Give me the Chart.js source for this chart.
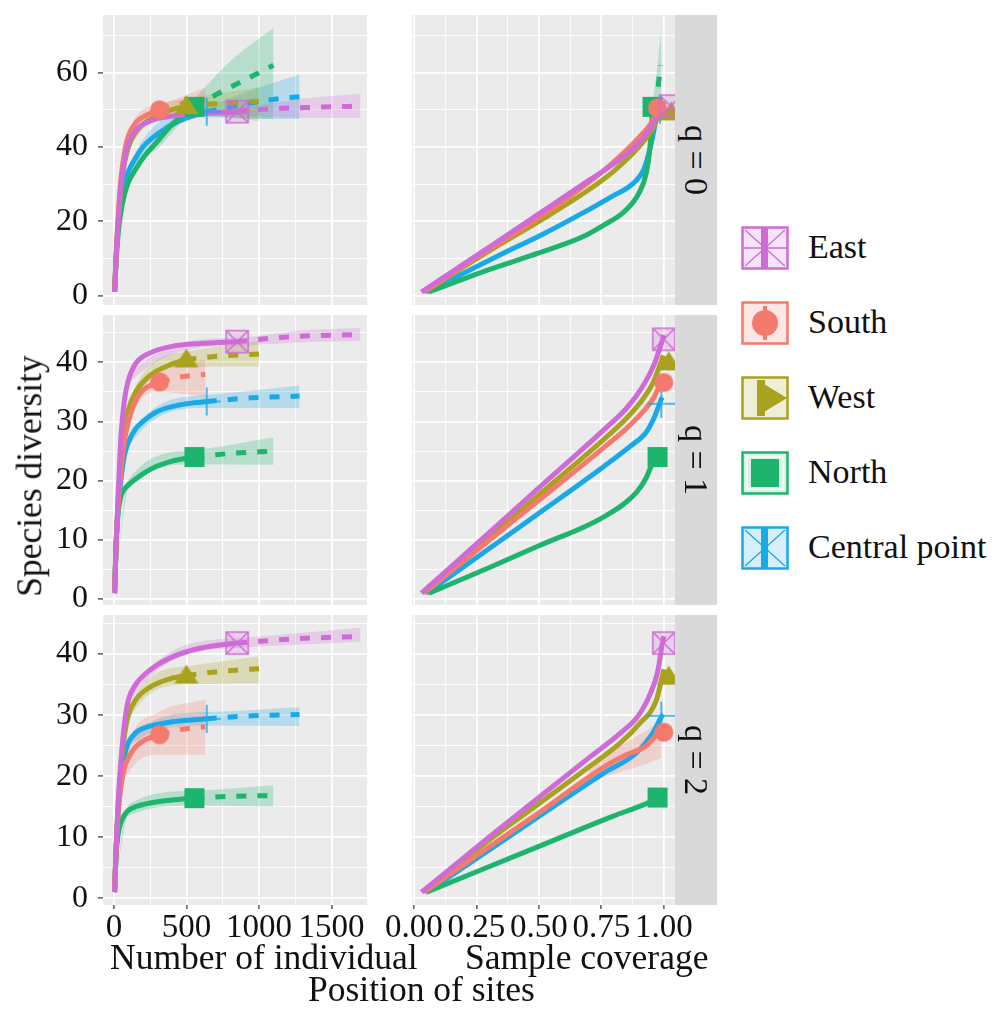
<!DOCTYPE html>
<html>
<head>
<meta charset="utf-8">
<script src="https://cdn.jsdelivr.net/npm/chart.js@4.4.1/dist/chart.umd.min.js"></script>
<style>
  body { margin: 0; background: #fff; width: 1000px; height: 1015px; position: relative; overflow: hidden;
         font-family: 'Liberation Serif', 'Times New Roman', serif; color: #111; }
  canvas.panel { position: absolute; }
  .strip { position: absolute; left: 675px; width: 42px; height: 290px; background: #d9d9d9; }
  .strip span { position: absolute; left: 50%; top: 50%; transform: translate(-50%, -50%) rotate(90deg);
                white-space: nowrap; font-size: 34px; line-height: 1; }
  .title { position: absolute; font-size: 35.5px; line-height: 1; white-space: nowrap; }
  .key { position: absolute; left: 741px; }
  .lab { position: absolute; left: 808px; font-size: 34px; line-height: 1; white-space: nowrap; }
</style>
</head>
<body>
<canvas class="panel" id="s0" width="378" height="330" style="left:0;top:-5px"></canvas>
<canvas class="panel" id="c0" width="343" height="330" style="left:372px;top:-5px"></canvas>
<canvas class="panel" id="s1" width="378" height="330" style="left:0;top:295px"></canvas>
<canvas class="panel" id="c1" width="343" height="330" style="left:372px;top:295px"></canvas>
<canvas class="panel" id="s2" width="378" height="370" style="left:0;top:595px"></canvas>
<canvas class="panel" id="c2" width="343" height="370" style="left:372px;top:595px"></canvas>

<div class="strip" style="top:15px"><span>q = 0</span></div>
<div class="strip" style="top:315px"><span>q = 1</span></div>
<div class="strip" style="top:615px"><span>q = 2</span></div>

<div class="title" style="left:30px;top:476px;transform:translate(-50%,-50%) rotate(-90deg)">Species diversity</div>
<div class="title" style="left:110px;top:940px">Number of individual</div>
<div class="title" style="left:465px;top:940px">Sample coverage</div>
<div class="title" style="left:308px;top:972px">Position of sites</div>

<div id="legend"></div>

<script>
const sites = ['East', 'South', 'West', 'North', 'Central point'];
const siteColors = ['#CF6BD6', '#F47A6E', '#A9A21F', '#1DB46E', '#1AA9E8'];
const siteShapes = ['boxX', 'circle', 'triangle', 'square', 'plus'];
const qLabels = ['q = 0', 'q = 1', 'q = 2'];
const sizeTicks = [0, 500, 1000, 1500];
const coverageTicks = [0, 0.25, 0.5, 0.75, 1];
const yTicksQ0 = [0, 20, 40, 60];
const yTicksQ12 = [0, 10, 20, 30, 40];

// size-based curves, q = 0  (site order: East, South, West, North, Central point)
const sizeQ0Interp = [
  [[5,1],[15,10],[30,20],[50,30],[75,37],[100,41],[150,44.5],[250,47],[400,48.3],[600,49],[850,49.5]],
  [[5,1],[15,11],[30,22],[50,32],[75,39],[100,43],[150,46.5],[220,48.5],[315,50]],
  [[5,1],[15,10],[30,20],[50,30],[75,36],[100,40],[150,44],[250,47.5],[380,49.8],[500,51]],
  [[5,1],[15,9],[30,17],[50,23],[75,27.5],[100,30.5],[150,34],[200,37],[300,41.5],[400,46],[555,50.8]],
  [[5,1],[15,10],[30,19],[50,26],[75,30.5],[100,33.5],[150,37],[200,40],[300,43.5],[450,47],[640,49.5]]
];
const sizeQ0Extrap = [
  [[850,49.5],[1100,50.3],[1400,50.7],[1700,51]],
  [[315,50],[450,51.5],[630,52.5]],
  [[500,51],[750,51.8],[1000,52.3]],
  [[555,50.8],[700,54],[900,58],[1100,62]],
  [[640,49.5],[900,51.5],[1100,52.8],[1280,53.5]]
];
const sizeQ0Band = [
  [[5,1,1],[100,40,42],[400,47.5,49.2],[850,48.5,50.5],[1300,47.8,53],[1700,47.8,54.3]],
  [[5,1,1],[100,42,44],[315,48.5,51.5],[630,48,56]],
  [[5,1,1],[100,39,41],[500,49,53],[1000,47,56]],
  [[5,1,1],[100,29.5,31.5],[300,39.5,43.5],[555,48.5,53],[800,48,63],[1100,47.5,72]],
  [[5,1,1],[100,32.5,34.5],[640,48,51],[1000,47.5,56],[1280,47.5,59.5]]
];
const sizeQ0Obs = [[850,49.5],[315,50],[500,51],[555,50.8],[640,49.5]];

// size-based, q = 1
const sizeQ1Interp = [
  [[5,1],[15,9],[30,18],[50,28],[75,34],[100,37],[150,39.8],[250,41.6],[400,42.7],[600,43.2],[850,43.5]],
  [[5,1],[15,9],[30,16],[50,22],[75,27],[100,30],[150,33.5],[200,35.3],[315,36.7]],
  [[5,1],[15,9],[30,17],[50,24],[75,29],[100,32],[150,35],[250,37.8],[380,39.5],[500,40.5]],
  [[5,1],[15,9],[25,13.5],[45,17],[70,18.5],[100,19.3],[150,20.3],[250,21.9],[400,23.3],[555,24]],
  [[5,1],[15,9],[30,15.5],[50,20.5],[75,24.5],[100,26.5],[150,28.8],[200,30],[300,31.7],[450,32.8],[640,33.4]]
];
const sizeQ1Extrap = [
  [[850,43.5],[1200,44.3],[1700,44.7]],
  [[315,36.7],[450,37.5],[630,38]],
  [[500,40.5],[750,41.1],[1000,41.4]],
  [[555,24],[800,24.6],[1100,25]],
  [[640,33.4],[950,34],[1280,34.3]]
];
const sizeQ1Band = [
  [[5,1,1],[100,36.3,37.7],[850,42.8,44.2],[1300,43.4,45.4],[1700,43.6,45.8]],
  [[5,1,1],[100,29,31],[315,35,38.4],[630,34.2,40.5]],
  [[5,1,1],[100,31,33],[500,39.2,41.8],[1000,39.3,43.6]],
  [[5,1,1],[100,18.5,20.2],[555,22.8,25.2],[1100,22.7,27.3]],
  [[5,1,1],[100,25.8,27.3],[640,32.3,34.5],[1280,32.3,36.1]]
];
const sizeQ1Obs = [[850,43.5],[315,36.7],[500,40.5],[555,24],[640,33.4]];

// size-based, q = 2
const sizeQ2Interp = [
  [[5,1],[15,8],[30,16],[50,23],[75,29],[100,32.5],[150,35],[250,37.4],[400,39.5],[600,41],[850,41.8]],
  [[5,1],[15,8],[30,14],[50,18.5],[75,21.5],[100,23],[150,24.8],[220,26],[315,26.8]],
  [[5,1],[15,8],[30,15.5],[50,22],[75,27],[100,30],[150,32.5],[250,34.6],[380,35.9],[500,36.5]],
  [[5,1],[15,7],[30,10.5],[50,12.5],[75,13.7],[100,14.4],[150,15],[250,15.6],[400,16.1],[555,16.4]],
  [[5,1],[15,8],[30,14.5],[50,19.5],[75,23.5],[100,25.5],[150,27.1],[250,28.2],[400,28.9],[640,29.4]]
];
const sizeQ2Extrap = [
  [[850,41.8],[1250,42.5],[1700,42.9]],
  [[315,26.8],[450,27.6],[630,28.1]],
  [[500,36.5],[750,37.2],[1000,37.6]],
  [[555,16.4],[800,16.7],[1100,16.8]],
  [[640,29.4],[950,29.9],[1280,30.1]]
];
const sizeQ2Band = [
  [[5,1,1],[100,31.8,33.2],[850,41,42.6],[1700,42,44.3]],
  [[5,1,1],[50,17,20],[100,20.5,25.5],[315,23.5,30.5],[630,23.5,32.5]],
  [[5,1,1],[100,29,31],[500,35,38],[1000,35.2,39.6]],
  [[5,1,1],[100,13.5,15.3],[555,15.2,17.6],[1100,15,18.5]],
  [[5,1,1],[100,24.8,26.2],[640,28.3,30.5],[1280,28.2,31.3]]
];
const sizeQ2Obs = [[850,41.8],[315,26.8],[500,36.5],[555,16.4],[640,29.4]];

// coverage-based, q = 0
const covQ0Interp = [
  [[0.03,1],[0.3,13],[0.5,22],[0.7,31],[0.8,35.5],[0.9,41],[0.96,46.5],[0.99,49.5]],
  [[0.04,1],[0.3,12.5],[0.5,21],[0.7,30.5],[0.8,36],[0.9,42.5],[0.95,46.5],[0.975,50]],
  [[0.04,1],[0.3,12],[0.5,20],[0.7,28.5],[0.8,33.5],[0.9,40],[0.96,45.5],[0.99,50.5]],
  [[0.06,1],[0.3,7],[0.5,11.5],[0.68,16],[0.76,19],[0.84,22.5],[0.9,27.5],[0.93,33],[0.945,40],[0.955,50.8]],
  [[0.05,1],[0.36,11.5],[0.5,16],[0.68,22.4],[0.8,27],[0.87,29.8],[0.92,34],[0.95,41],[0.975,49.5]]
];
const covQ0Extrap = [
  [[0.99,49.5],[0.995,50.5],[0.998,51]],
  [[0.975,50],[0.985,51.5],[0.99,52.5]],
  [[0.99,50.5],[0.995,51.5],[0.998,52.3]],
  [[0.955,50.8],[0.975,55],[0.987,62]],
  [[0.975,49.5],[0.985,52],[0.99,53.5]]
];
const covQ0Band = [null, null, null, [[0.955,50,51.6],[0.975,48,62],[0.99,47,72]], null];
const covQ0Obs = [[1.027,51],[0.975,50.5],[1.03,49.3],[0.955,50.8],[0.985,50]];

// coverage-based, q = 1
const covQ1Interp = [
  [[0.03,1],[0.3,11.2],[0.5,18.8],[0.76,28.6],[0.85,32.2],[0.917,36],[0.96,39.5],[0.995,43.8]],
  [[0.04,1],[0.3,9.9],[0.5,16.7],[0.76,25.6],[0.85,28.8],[0.92,31.8],[0.96,34],[0.985,36.3]],
  [[0.04,1],[0.3,10.4],[0.5,17.6],[0.76,27],[0.85,30.5],[0.92,34],[0.96,36.8],[0.99,40.2]],
  [[0.06,1],[0.3,5.3],[0.5,9],[0.76,13.9],[0.89,18],[0.93,20.5],[0.95,22.5],[0.97,24]],
  [[0.05,1],[0.3,8.5],[0.5,14.5],[0.76,22.4],[0.865,25.8],[0.93,28.2],[0.96,30.5],[0.985,33.2]]
];
const covQ1Extrap = [
  [[0.995,43.8],[0.998,44.3],[1.0,44.6]],
  [[0.985,36.3],[0.99,37],[0.995,37.5]],
  [[0.99,40.2],[0.995,40.8],[0.998,41.2]],
  [[0.97,24],[0.98,24.5],[0.985,24.9]],
  [[0.985,33.2],[0.99,33.8],[0.995,34.1]]
];
const covQ1Band = [null, null, null, null, null];
const covQ1Obs = [[1.0,43.9],[1.0,36.6],[1.02,40],[0.975,24],[0.99,33]];

// coverage-based, q = 2
const covQ2Interp = [
  [[0.03,1],[0.3,10],[0.5,16.5],[0.7,23],[0.825,27],[0.9,30],[0.947,33.6],[0.975,37],[0.995,42]],
  [[0.04,1],[0.3,8.4],[0.5,14],[0.76,21.5],[0.85,23.5],[0.93,25],[0.975,27]],
  [[0.04,1],[0.3,9.5],[0.5,15.5],[0.7,21.5],[0.825,25.4],[0.9,28.5],[0.97,32.4],[0.995,36.5]],
  [[0.05,1],[0.5,8.5],[0.8,13.5],[0.93,15.5],[0.97,16.3]],
  [[0.05,1],[0.3,7.9],[0.5,13.4],[0.76,20.5],[0.89,23.8],[0.955,27],[0.99,29.7]]
];
const covQ2Extrap = [
  [[0.995,42],[0.998,42.5],[1.0,42.9]],
  [[0.975,27],[0.985,27.6],[0.99,28]],
  [[0.995,36.5],[0.998,37.1],[1.0,37.5]],
  [[0.97,16.3],[0.98,16.6],[0.985,16.8]],
  [[0.99,29.7],[0.995,30],[0.998,30.1]]
];
const covQ2Band = [null, [[0.7,19,21.5],[0.85,21,25.5],[0.93,22,27.5],[0.99,23,29]], null, null, null];
const covQ2Obs = [[1.0,41.8],[1.0,27.2],[1.02,36.3],[0.975,16.5],[0.99,29.9]];

const FONT = "'Liberation Serif', 'Times New Roman', serif";

function rgba(hex, a) {
  const n = parseInt(hex.slice(1), 16);
  return 'rgba(' + (n >> 16 & 255) + ',' + (n >> 8 & 255) + ',' + (n & 255) + ',' + a + ')';
}

function makeMarker(shape, color) {
  const s = shape === 'plus' ? 30 : 26;
  const c = document.createElement('canvas');
  c.width = s; c.height = s;
  const g = c.getContext('2d');
  const m = s / 2;
  g.fillStyle = color; g.strokeStyle = color;
  if (shape === 'boxX') {
    g.lineWidth = 1.5;
    g.fillStyle = rgba(color, 0.2);
    g.fillRect(2, 2, s - 4, s - 4);
    g.strokeRect(2, 2, s - 4, s - 4);
    g.beginPath();
    g.moveTo(2, 2); g.lineTo(s - 2, s - 2);
    g.moveTo(s - 2, 2); g.lineTo(2, s - 2);
    g.stroke();
  } else if (shape === 'circle') {
    g.beginPath(); g.arc(m, m, 9.5, 0, Math.PI * 2); g.fill();
  } else if (shape === 'triangle') {
    g.beginPath(); g.moveTo(m, 2); g.lineTo(s - 1, s - 5); g.lineTo(1, s - 5); g.closePath(); g.fill();
  } else if (shape === 'square') {
    g.fillRect(3, 3, s - 6, s - 6);
  } else {
    g.lineWidth = 1.5;
    g.beginPath(); g.moveTo(m, 1); g.lineTo(m, s - 1); g.moveTo(1, m); g.lineTo(s - 1, m); g.stroke();
  }
  return c;
}
const markers = siteShapes.map((sh, i) => makeMarker(sh, siteColors[i]));

function isMajor(v, major) {
  const r = v / major;
  return Math.abs(r - Math.round(r)) < 1e-6;
}

const panelBg = {
  id: 'panelBg',
  beforeDraw(chart) {
    const a = chart.chartArea, g = chart.ctx;
    g.save();
    g.fillStyle = '#EBEBEB';
    g.fillRect(a.left, a.top, a.right - a.left, a.bottom - a.top);
    g.restore();
  }
};

function axis(o) {
  return {
    type: 'linear', min: o.min, max: o.max,
    border: { display: false },
    grid: {
      color: '#ffffff',
      lineWidth: c => isMajor(c.tick.value, o.major) ? 1.8 : 0.9,
      drawTicks: o.show,
      tickLength: o.tickLength || 5,
      tickWidth: 1.2,
      tickColor: c => isMajor(c.tick.value, o.major) ? '#333' : 'rgba(0,0,0,0)'
    },
    ticks: {
      display: o.show, stepSize: o.major / 2, autoSkip: false, includeBounds: false,
      maxRotation: 0, minRotation: 0, padding: o.padding || 0, color: '#111',
      font: { family: FONT, size: o.fontSize },
      callback: v => isMajor(v, o.major) && o.labels.some(t => Math.abs(t - v) < 1e-9) ? o.fmt(v) : ''
    },
    afterFit: s => {
      if (o.horizontal) s.height = o.size; else s.width = o.size;
      s.paddingTop = 0; s.paddingBottom = 0; s.paddingLeft = 0; s.paddingRight = 0;
    }
  };
}

function buildDatasets(interp, extrap, band, obs) {
  const ds = [];
  sites.forEach((name, i) => {
    const col = siteColors[i];
    if (band[i]) {
      ds.push({ data: band[i].map(p => ({ x: p[0], y: p[2] })), borderWidth: 0, pointRadius: 0,
                fill: '+1', backgroundColor: rgba(col, 0.25), cubicInterpolationMode: 'monotone', order: 3 });
      ds.push({ data: band[i].map(p => ({ x: p[0], y: p[1] })), borderWidth: 0, pointRadius: 0,
                fill: false, cubicInterpolationMode: 'monotone', order: 3 });
    }
    ds.push({ data: interp[i].map(p => ({ x: p[0], y: p[1] })), borderColor: col, borderWidth: 5,
              pointRadius: 0, fill: false, cubicInterpolationMode: 'monotone', order: 2 });
    ds.push({ data: extrap[i].map(p => ({ x: p[0], y: p[1] })), borderColor: col, borderWidth: 5,
              borderDash: [10, 11], pointRadius: 0, fill: false, cubicInterpolationMode: 'monotone', order: 2 });
    ds.push({ data: [{ x: obs[i][0], y: obs[i][1] }], showLine: false, pointStyle: markers[i],
              pointRadius: 10, order: 1 });
  });
  return ds;
}

const yRows = [
  { min: -2.5, max: 75.5, major: 20, labels: yTicksQ0 },
  { min: -1, max: 48, major: 10, labels: yTicksQ12 },
  { min: -1.1, max: 46.4, major: 10, labels: yTicksQ12 }
];
const sizeData = [
  [sizeQ0Interp, sizeQ0Extrap, sizeQ0Band, sizeQ0Obs],
  [sizeQ1Interp, sizeQ1Extrap, sizeQ1Band, sizeQ1Obs],
  [sizeQ2Interp, sizeQ2Extrap, sizeQ2Band, sizeQ2Obs]
];
const covData = [
  [covQ0Interp, covQ0Extrap, covQ0Band, covQ0Obs],
  [covQ1Interp, covQ1Extrap, covQ1Band, covQ1Obs],
  [covQ2Interp, covQ2Extrap, covQ2Band, covQ2Obs]
];

function makePanel(id, data, row, isSize) {
  const bottom = row === 2;
  const yr = yRows[row];
  const x = isSize
    ? axis({ min: -75, max: 1745, major: 500, labels: sizeTicks, fmt: v => String(v), show: bottom,
             horizontal: true, size: bottom ? 50 : 0, tickLength: 4, padding: 0, fontSize: 33 })
    : axis({ min: -0.008, max: 1.045, major: 0.25, labels: coverageTicks, fmt: v => v.toFixed(2), show: bottom,
             horizontal: true, size: bottom ? 50 : 0, tickLength: 4, padding: 0, fontSize: 33 });
  const y = axis({ min: yr.min, max: yr.max, major: yr.major, labels: yr.labels, fmt: v => String(v),
                   show: isSize, horizontal: false, size: isSize ? 103 : 0, tickLength: 5, padding: 10, fontSize: 32 });
  new Chart(document.getElementById(id), {
    type: 'line',
    data: { datasets: buildDatasets(data[0], data[1], data[2], data[3]) },
    options: {
      responsive: false, animation: false, events: [],
      layout: { padding: isSize ? { left: 0, right: 10, top: 20, bottom: bottom ? 10 : 20 }
                                : { left: 40, right: 40, top: 20, bottom: bottom ? 10 : 20 } },
      plugins: { legend: { display: false }, tooltip: { enabled: false } },
      scales: { x: x, y: y }
    },
    plugins: [panelBg]
  });
}

for (let r = 0; r < 3; r++) {
  makePanel('s' + r, sizeData[r], r, true);
  makePanel('c' + r, covData[r], r, false);
}

// legend
const legend = document.getElementById('legend');
const keyCentres = [248, 323, 398, 473, 548];
sites.forEach((name, i) => {
  const col = siteColors[i];
  const k = document.createElement('canvas');
  k.width = 48; k.height = 44; k.className = 'key';
  k.style.top = (keyCentres[i] - 22) + 'px';
  const g = k.getContext('2d');
  g.fillStyle = rgba(col, 0.18); g.fillRect(1, 1, 46, 42);
  g.strokeStyle = col; g.lineWidth = 2.5; g.strokeRect(1.5, 1.5, 45, 41);
  g.fillStyle = col;
  const sh = siteShapes[i];
  if (sh === 'boxX' || sh === 'plus') {
    g.lineWidth = 1.3;
    g.beginPath();
    g.moveTo(4, 4); g.lineTo(44, 40); g.moveTo(44, 4); g.lineTo(4, 40);
    if (sh === 'boxX') { g.moveTo(2, 22); g.lineTo(46, 22); }
    g.stroke();
    g.fillRect(20, 2, 7, 40);
  } else if (sh === 'circle') {
    g.beginPath(); g.arc(24, 22, 13, 0, Math.PI * 2); g.fill();
    g.fillRect(22, 5, 4, 34);
  } else if (sh === 'triangle') {
    g.fillRect(16, 4, 8, 36);
    g.beginPath(); g.moveTo(18, 5); g.lineTo(46, 22); g.lineTo(18, 39); g.closePath(); g.fill();
  } else {
    g.strokeStyle = 'rgba(255,255,255,0.6)'; g.lineWidth = 2; g.strokeRect(6, 6, 36, 32);
    g.fillRect(10, 8, 28, 28);
  }
  legend.appendChild(k);
  const t = document.createElement('div');
  t.className = 'lab';
  t.textContent = name;
  t.style.top = (keyCentres[i] - 18) + 'px';
  legend.appendChild(t);
});
</script>
</body>
</html>
